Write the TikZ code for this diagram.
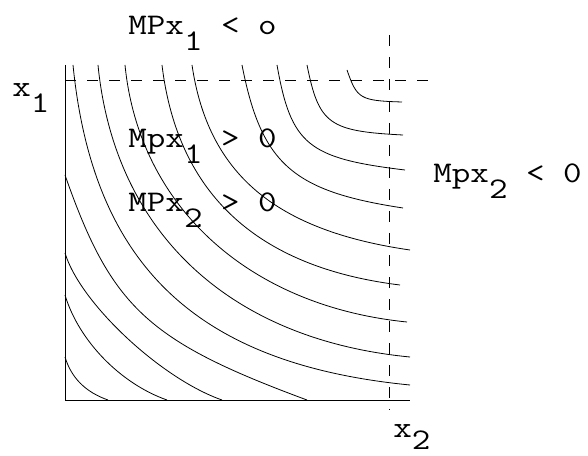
\documentclass[tikz,border=0pt]{standalone}
\usepackage{graphicx}
\begin{document}
\begin{tikzpicture}[x=1pt,y=1pt,line width=0.8pt,
  lab/.style={anchor=base west,inner sep=0pt,font=\fontsize{30}{32}\selectfont\ttfamily},
  ridge/.style={dash pattern=on 11pt off 11pt}]
\useasboundingbox (-65,-55) rectangle (523,400);
% axes
\draw (0,335) -- (0,0) -- (345,0);
% ridge lines
\draw[ridge] (0,320) -- (372,320);
\draw[ridge] (324,365) -- (324,-10);
% isoquants near the origin
\draw (0,43) .. controls (6.3,22.1) and (20.5,7.9) .. (43,0);
\draw (0,105) .. controls (13.7,59.3) and (55.5,16.3) .. (102,0);
\draw (0,147) .. controls (15,97.1) and (95.8,21.4) .. (157,0);
\draw (0,225) .. controls (46.3,92.7) and (82.5,59) .. (242,0);
% isoquants crossing the ridge lines
\draw (8,335) .. controls (28,135) and (131,36) .. (345,15);
\draw (33,335) .. controls (49.4,168.7) and (163,60.6) .. (345,43);
\draw (60,335) .. controls (74,194) and (183,94) .. (342,78);
\draw (97,335) .. controls (112.6,205.2) and (192.8,132.6) .. (335,115);
\draw (127,335) .. controls (143,227) and (209,169.7) .. (345,150);
\draw (177,335) .. controls (196.4,236) and (227.4,208.8) .. (338,192);
\draw (212,335) .. controls (226.1,255.3) and (242.7,241.7) .. (340,230);
\draw (242,335) .. controls (253.9,275.8) and (263.7,268.8) .. (338,265);
\draw (282,330) .. controls (292,301.2) and (294.9,299.3) .. (337,298);
% labels
\node[lab] (mpone) at (63,365) {\scalebox{1.2}[1]{MPx\raisebox{-16pt}{1} < o}};
\node[lab] (mpxone) at (63,252) {\scalebox{1.2}[1]{Mpx\raisebox{-16pt}{1} > 0}};
\node[lab] (mpxtwo) at (63,188) {\scalebox{1.2}[1]{MPx\raisebox{-16pt}{2} > 0}};
\node[lab] (mptwo) at (368,217) {\scalebox{1.2}[1]{Mpx\raisebox{-16pt}{2} < 0}};
\node[lab] (xone) at (-53,303) {\scalebox{1.2}[1]{x\raisebox{-16pt}{1}}};
\node[lab] (xtwo) at (328,-37) {\scalebox{1.2}[1]{x\raisebox{-12pt}{2}}};
\end{tikzpicture}
\end{document}
